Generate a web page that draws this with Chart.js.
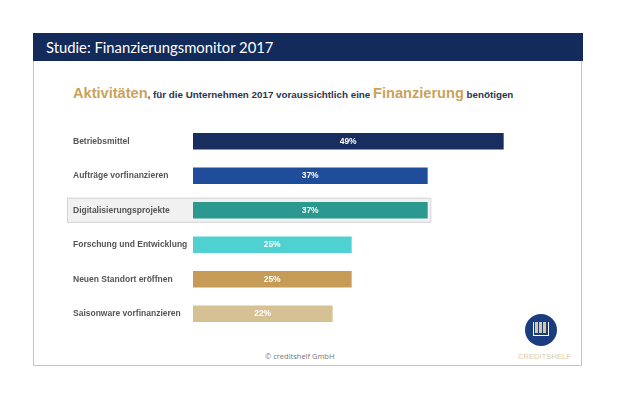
<!DOCTYPE html>
<html lang="de">
<head>
<meta charset="utf-8">
<title>Finanzierungsmonitor 2017</title>
<script src="https://cdn.jsdelivr.net/npm/chart.js@4.4.1/dist/chart.umd.min.js"></script>
<style>
  body { margin: 0; background: #fff; width: 618px; height: 398px; position: relative; overflow: hidden; font-family: "Liberation Sans", Arial, sans-serif; }
  #rahmen { position: absolute; left: 33px; top: 33px; width: 547px; height: 332px; border: 1.5px solid #c4c4c4; border-top: none; }
  #kopf { position: absolute; left: 33px; top: 33px; width: 550px; height: 28px; background: #132b5b; color: #fff;
          font-family: Lato, "Open Sans", sans-serif; font-size: 14.8px; line-height: 28px; padding-left: 13px; box-sizing: border-box; }
  #unter { position: absolute; left: 73px; top: 85px; font-weight: bold; color: #2a3550; font-size: 9.8px; white-space: nowrap; }
  #unter .gold { color: #c9a25c; font-size: 14.6px; }
  #fuss { position: absolute; left: 265px; top: 351px; font-family: "Open Sans", sans-serif; font-size: 7.5px; color: #777; }
  #logo { position: absolute; left: 525px; top: 314px; width: 32px; height: 32px; border-radius: 50%; background: #1b3d7f; }
  #logo .innen { position: absolute; left: 8px; top: 8px; width: 16px; height: 14px; border: 1.5px solid #fff; border-top: none; box-sizing: border-box; }
  #logo .innen span { position: absolute; top: 0; width: 3px; height: 11px; background: #d8c79a; }
  #logoText { position: absolute; left: 518px; top: 352px; font-size: 7.3px; color: #d9c9a2; letter-spacing: 0.2px; }
  #c { position: absolute; left: 0; top: 0; }
</style>
</head>
<body>
<div id="rahmen"></div>
<div id="kopf">Studie: Finanzierungsmonitor 2017</div>
<div id="unter"><span class="gold">Aktivitäten</span>, für die Unternehmen 2017 voraussichtlich eine <span class="gold">Finanzierung</span> benötigen</div>
<div id="fuss">© creditshelf GmbH</div>
<div id="logo"><div class="innen"><span style="left:1px"></span><span style="left:5px"></span><span style="left:9px"></span></div></div>
<div id="logoText">CREDITSHELF</div>
<canvas id="c" width="618" height="398"></canvas>
<script>
const kategorien = ['Betriebsmittel', 'Aufträge vorfinanzieren', 'Digitalisierungsprojekte',
    'Forschung und Entwicklung', 'Neuen Standort eröffnen', 'Saisonware vorfinanzieren'];
const anteile = [49, 37, 37, 25, 25, 22];
const farben = ['#182e5e', '#1f4d9b', '#2b998f', '#4fd1d1', '#c59b55', '#d6c195'];
const markiert = 2; // Digitalisierungsprojekte hervorgehoben

// Markierung, Kategorien links und Werte in den Balken
const beschriftung = {
    id: 'beschriftung',
    beforeDatasetsDraw(chart) {
        const ctx = chart.ctx;
        const y = chart.scales.y;
        const x = chart.scales.x;
        const yM = y.getPixelForValue(markiert);
        ctx.save();
        ctx.fillStyle = '#f1f1f1';
        ctx.strokeStyle = '#d4d4d4';
        ctx.lineWidth = 1;
        const rechts = x.getPixelForValue(anteile[markiert]) + 3;
        ctx.fillRect(67, yM - 12.5, rechts - 67, 25);
        ctx.strokeRect(67.5, yM - 12, rechts - 67, 24);
        ctx.restore();
    },
    afterDatasetsDraw(chart) {
        const ctx = chart.ctx;
        const y = chart.scales.y;
        const x = chart.scales.x;
        ctx.save();
        ctx.textBaseline = 'middle';
        kategorien.forEach((k, i) => {
            const py = y.getPixelForValue(i);
            ctx.font = 'bold 8.5px "Liberation Sans", Arial, sans-serif';
            ctx.fillStyle = '#555';
            ctx.textAlign = 'left';
            ctx.fillText(k, 73, py);
            const x0 = x.getPixelForValue(0);
            const x1 = x.getPixelForValue(anteile[i]);
            ctx.fillStyle = '#fff';
            ctx.textAlign = 'center';
            ctx.fillText(anteile[i] + '%', (x0 + x1) / 2, py);
        });
        ctx.restore();
    }
};

new Chart(document.getElementById('c').getContext('2d'), {
    type: 'bar',
    data: {
        labels: kategorien,
        datasets: [{
            data: anteile,
            backgroundColor: farben,
            barThickness: 16
        }]
    },
    options: {
        indexAxis: 'y',
        responsive: false,
        animation: false,
        layout: { padding: { left: 193, right: 45, top: 124, bottom: 67 } },
        scales: {
            x: { display: false, min: 0, max: 60 },
            y: { display: false }
        },
        plugins: {
            legend: { display: false },
            tooltip: { enabled: false }
        }
    },
    plugins: [beschriftung]
});
</script>
</body>
</html>
